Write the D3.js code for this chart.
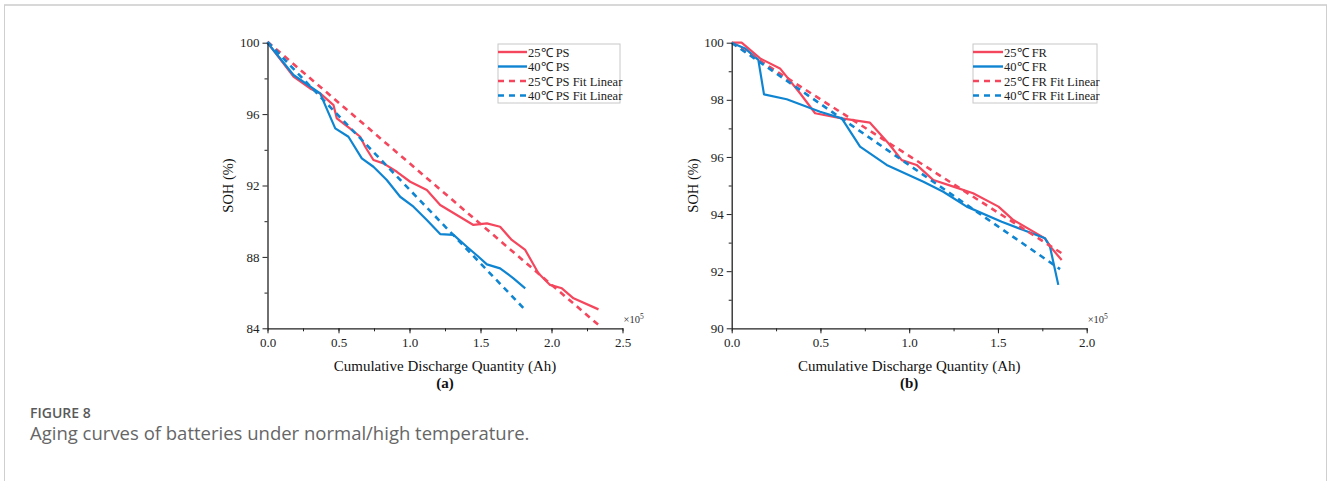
<!DOCTYPE html>
<html>
<head>
<meta charset="utf-8">
<script src="https://cdn.jsdelivr.net/npm/d3@7"></script>
<style>
body { margin: 0; background: #fff; }
.tick text { font-family: "Liberation Serif", "Times New Roman", serif; }
</style>
</head>
<body>
<div id="chart"></div>
<script>
var w = 1328;
var h = 481;

// panel (a): x in units of 1e5 Ah, SOH in %
var ps25X = [0, 0.183, 0.30, 0.371, 0.465, 0.488, 0.58, 0.653, 0.688, 0.746, 0.817, 0.911, 1.005, 1.122, 1.216, 1.333, 1.45, 1.545, 1.638, 1.72, 1.815, 1.908, 1.99, 2.073, 2.155, 2.331];
var ps25Y = [100, 98.1, 97.44, 97.16, 96.5, 95.76, 95.2, 94.73, 94.17, 93.43, 93.24, 92.77, 92.21, 91.75, 90.91, 90.35, 89.79, 89.88, 89.69, 88.95, 88.39, 87.08, 86.43, 86.24, 85.68, 85.06];
var ps40X = [0, 0.183, 0.371, 0.406, 0.477, 0.57, 0.664, 0.746, 0.84, 0.934, 1.028, 1.122, 1.216, 1.31, 1.404, 1.486, 1.545, 1.638, 1.732, 1.815];
var ps40Y = [100, 98.19, 97.16, 96.5, 95.2, 94.73, 93.52, 93.05, 92.31, 91.37, 90.81, 90.07, 89.28, 89.23, 88.57, 88.01, 87.58, 87.36, 86.8, 86.24];
var ps25FitX = [0, 2.331];
var ps25FitY = [100.05, 84.19];
var ps40FitX = [0, 1.815];
var ps40FitY = [100.05, 85.03];

// panel (b)
var fr25X = [0, 0.056, 0.16, 0.272, 0.385, 0.47, 0.62, 0.779, 0.883, 0.958, 1.042, 1.136, 1.249, 1.36, 1.503, 1.587, 1.765, 1.803, 1.859];
var fr25Y = [100, 100, 99.45, 99.1, 98.23, 97.53, 97.35, 97.2, 96.48, 95.89, 95.72, 95.19, 94.96, 94.73, 94.26, 93.79, 93.15, 92.8, 92.39];
var fr40X = [0, 0.075, 0.15, 0.182, 0.31, 0.498, 0.62, 0.723, 0.873, 1.08, 1.192, 1.324, 1.521, 1.643, 1.765, 1.793, 1.84];
var fr40Y = [100, 99.8, 99.4, 98.19, 98.02, 97.58, 97.35, 96.36, 95.72, 95.13, 94.78, 94.26, 93.73, 93.44, 93.15, 92.86, 91.52];
var fr25FitX = [0, 1.859];
var fr25FitY = [100, 92.63];
var fr40FitX = [0, 1.85];
var fr40FitY = [100, 92.07];

var aXTicks = [0, 0.5, 1.0, 1.5, 2.0, 2.5];
var aYTicks = [84, 88, 92, 96, 100];
var bXTicks = [0, 0.5, 1.0, 1.5, 2.0];
var bYTicks = [90, 92, 94, 96, 98, 100];

var legendA = ["25\u2103 PS", "40\u2103 PS", "25\u2103 PS Fit Linear", "40\u2103 PS Fit Linear"];
var legendB = ["25\u2103 FR", "40\u2103 FR", "25\u2103 FR Fit Linear", "40\u2103 FR Fit Linear"];

var red = "#f4475d";
var blue = "#0f85d2";
var serif = "'Liberation Serif', 'Times New Roman', serif";

var svg = d3.select("#chart")
	.append("svg")
	.attr("width", w)
	.attr("height", h);

// frame
svg.append("line").attr("x1", 4).attr("x2", 1327).attr("y1", 5).attr("y2", 5)
	.attr("stroke", "#d8d8d8").attr("stroke-width", 2);
svg.append("line").attr("x1", 4.5).attr("x2", 4.5).attr("y1", 5).attr("y2", h)
	.attr("stroke", "#cfcfcf").attr("stroke-width", 1);
svg.append("line").attr("x1", 1326.5).attr("x2", 1326.5).attr("y1", 5).attr("y2", h)
	.attr("stroke", "#cfcfcf").attr("stroke-width", 1);

function pair(xs, ys) {
	return xs.map(function (x, i) { return [x, ys[i]]; });
}

function panel(opt) {
	var g = svg.append("g");
	var xScale = d3.scaleLinear().domain(opt.xDomain).range([opt.left, opt.right]);
	var yScale = d3.scaleLinear().domain(opt.yDomain).range([opt.bottom, opt.top]);

	var line = d3.line()
		.x(function (d) { return xScale(d[0]); })
		.y(function (d) { return yScale(d[1]); });

	opt.series.forEach(function (s) {
		g.append("path")
			.datum(pair(s.x, s.y))
			.attr("d", line)
			.attr("fill", "none")
			.attr("stroke", s.color)
			.attr("stroke-width", s.dash ? 2.6 : 2.2)
			.attr("stroke-dasharray", s.dash ? "6,5" : null)
			.attr("stroke-linejoin", "round");
	});

	// minor ticks
	var xMinor = d3.range(opt.xDomain[0], opt.xDomain[1] + 0.001, 0.25);
	g.append("g")
		.attr("transform", "translate(0," + opt.bottom + ")")
		.call(d3.axisBottom(xScale).tickValues(xMinor).tickSize(3).tickFormat(""))
		.call(function (a) { a.select(".domain").remove(); });
	g.append("g")
		.attr("transform", "translate(" + opt.left + ",0)")
		.call(d3.axisLeft(yScale).tickValues(opt.yMinor).tickSize(3).tickFormat(""))
		.call(function (a) { a.select(".domain").remove(); });

	var xa = g.append("g")
		.attr("transform", "translate(0," + opt.bottom + ")")
		.call(d3.axisBottom(xScale).tickValues(opt.xTicks).tickSize(5).tickSizeOuter(0).tickPadding(4)
			.tickFormat(d3.format(".1f")));
	var ya = g.append("g")
		.attr("transform", "translate(" + opt.left + ",0)")
		.call(d3.axisLeft(yScale).tickValues(opt.yTicks).tickSize(5).tickSizeOuter(0).tickPadding(3)
			.tickFormat(d3.format("d")));
	[xa, ya].forEach(function (a) {
		a.selectAll("text").attr("font-size", 13).attr("fill", "#222");
		a.select(".domain").attr("stroke", "#222").attr("stroke-width", 1.3);
		a.selectAll("line").attr("stroke", "#222");
	});
	g.selectAll(".tick line").attr("stroke", "#222");

	// x10^5 note
	var note = g.append("text")
		.attr("x", opt.right + 1)
		.attr("y", opt.bottom - 5)
		.attr("font-family", serif)
		.attr("font-size", 10.5)
		.attr("fill", "#333");
	note.append("tspan").text("\u00d710");
	note.append("tspan").attr("dy", -4).attr("font-size", 7.5).text("5");

	g.append("text")
		.attr("transform", "translate(" + opt.yLabelX + "," + ((opt.top + opt.bottom) / 2) + ") rotate(-90)")
		.attr("text-anchor", "middle")
		.attr("font-family", serif)
		.attr("font-size", 14.5)
		.attr("fill", "#111")
		.text("SOH (%)");

	g.append("text")
		.attr("x", (opt.left + opt.right) / 2)
		.attr("y", 371)
		.attr("text-anchor", "middle")
		.attr("font-family", serif)
		.attr("font-size", 15)
		.attr("fill", "#111")
		.text("Cumulative Discharge Quantity (Ah)");

	g.append("text")
		.attr("x", (opt.left + opt.right) / 2)
		.attr("y", 388)
		.attr("text-anchor", "middle")
		.attr("font-family", serif)
		.attr("font-size", 15)
		.attr("font-weight", "bold")
		.attr("fill", "#111")
		.text(opt.tag);

	// legend
	var lg = g.append("g").attr("transform", "translate(" + opt.legendX + ",44)");
	lg.append("rect")
		.attr("x", 0).attr("y", 0)
		.attr("width", opt.legendW).attr("height", 59)
		.attr("fill", "#fff")
		.attr("stroke", "#c8c8c8");
	opt.series.forEach(function (s, i) {
		var yy = 8 + i * 14.5;
		lg.append("line")
			.attr("x1", 0).attr("x2", opt.legendLine)
			.attr("y1", yy).attr("y2", yy)
			.attr("stroke", s.color)
			.attr("stroke-width", s.dash ? 2.6 : 2.4)
			.attr("stroke-dasharray", s.dash ? "6,5" : null);
		lg.append("text")
			.attr("x", opt.legendLine + 1)
			.attr("y", yy + 4.5)
			.attr("font-family", serif)
			.attr("font-size", 12.5)
			.attr("fill", "#222")
			.text(opt.legend[i]);
	});
}

panel({
	left: 267.5, right: 622.5, top: 42.7, bottom: 328.3,
	xDomain: [0, 2.5], yDomain: [84, 100],
	xTicks: aXTicks, yTicks: aYTicks, yMinor: [86, 90, 94, 98],
	yLabelX: 233, tag: "(a)",
	legendX: 498, legendW: 122, legendLine: 29, legend: legendA,
	series: [
		{ x: ps25X, y: ps25Y, color: red },
		{ x: ps40X, y: ps40Y, color: blue },
		{ x: ps25FitX, y: ps25FitY, color: red, dash: true },
		{ x: ps40FitX, y: ps40FitY, color: blue, dash: true }
	]
});

panel({
	left: 731.7, right: 1086.7, top: 42.7, bottom: 328.3,
	xDomain: [0, 2.0], yDomain: [90, 100],
	xTicks: bXTicks, yTicks: bYTicks, yMinor: [91, 93, 95, 97, 99],
	yLabelX: 698, tag: "(b)",
	legendX: 973, legendW: 124, legendLine: 30, legend: legendB,
	series: [
		{ x: fr25X, y: fr25Y, color: red },
		{ x: fr40X, y: fr40Y, color: blue },
		{ x: fr25FitX, y: fr25FitY, color: red, dash: true },
		{ x: fr40FitX, y: fr40FitY, color: blue, dash: true }
	]
});

// caption
svg.append("text")
	.attr("x", 30).attr("y", 418)
	.attr("font-family", "'Open Sans', sans-serif")
	.attr("font-size", 14)
	.attr("font-weight", 600)
	.attr("fill", "#5a5a5a")
	.text("FIGURE 8");
svg.append("text")
	.attr("x", 30).attr("y", 440)
	.attr("font-family", "'Open Sans', sans-serif")
	.attr("font-size", 18.5)
	.attr("fill", "#666")
	.text("Aging curves of batteries under normal/high temperature.");
</script>
</body>
</html>
